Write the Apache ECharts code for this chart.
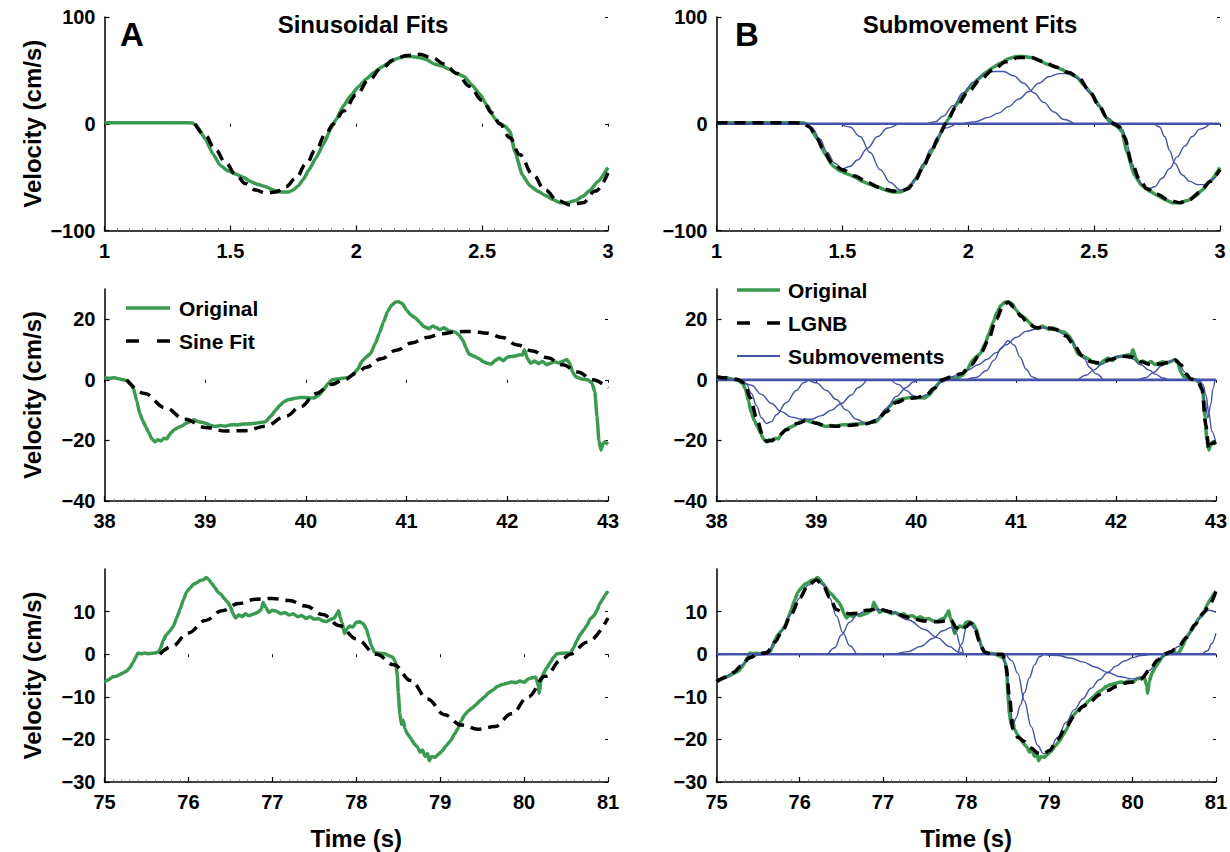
<!DOCTYPE html>
<html><head><meta charset="utf-8">
<script src="https://cdn.jsdelivr.net/npm/echarts@6/dist/echarts.min.js"></script>
<style>html,body{margin:0;padding:0;background:#fff}#c{width:1230px;height:852px}</style>
</head><body><div id="c"></div>
<script>
// ---------------- DATA ----------------
// Row 1 (time 1–3 s)
const orig1 = [[1.00,1],[1.10,1],[1.20,1],[1.30,1],[1.35,0.8],[1.37,-3],[1.40,-14],[1.43,-28],[1.46,-39],[1.49,-44],[1.52,-47],[1.55,-50],[1.58,-54],[1.61,-57],[1.64,-59],[1.67,-62],[1.70,-64],[1.73,-64],[1.75,-62],[1.77,-58],[1.79,-52],[1.81,-44],[1.84,-32],[1.87,-19],[1.90,-4],[1.92,4],[1.95,17],[1.98,27],[2.01,35],[2.04,42],[2.07,48],[2.10,53],[2.13,57],[2.16,61],[2.19,63],[2.22,63],[2.25,62],[2.28,60],[2.31,56],[2.34,54],[2.37,51],[2.40,47],[2.43,44],[2.46,36],[2.49,28],[2.52,17],[2.55,5],[2.57,0],[2.59,-2],[2.61,-7],[2.63,-26],[2.66,-48],[2.69,-58],[2.72,-63],[2.75,-67],[2.78,-71],[2.81,-74],[2.84,-74],[2.87,-72],[2.90,-68],[2.93,-62],[2.96,-54],[3.00,-41]];
const sine1 = [[1.36,0],[1.40,-11],[1.44,-24],[1.48,-36],[1.52,-47],[1.56,-56],[1.60,-62],[1.64,-65],[1.68,-64],[1.72,-59],[1.76,-51],[1.80,-38],[1.84,-24],[1.88,-9],[1.91,0],[1.95,12],[2.00,27],[2.05,41],[2.10,52],[2.15,60],[2.20,64],[2.25,65],[2.30,62],[2.35,56],[2.40,47],[2.45,35],[2.50,22],[2.54,10],[2.57,0],[2.61,-13],[2.65,-29],[2.70,-47],[2.75,-62],[2.80,-72],[2.85,-76],[2.90,-74],[2.95,-63],[3.00,-46]];
const lgnb1 = [[1.00,1],[1.20,1],[1.34,0.8],[1.37,-3],[1.40,-14],[1.43,-27],[1.46,-37],[1.50,-43],[1.55,-49],[1.60,-55],[1.65,-60],[1.70,-63],[1.73,-63.5],[1.76,-61],[1.79,-53],[1.82,-41],[1.85,-28],[1.88,-14],[1.91,0],[1.95,15],[2.00,30],[2.05,42],[2.10,51],[2.15,58],[2.20,62],[2.25,62],[2.30,58],[2.35,53],[2.40,48],[2.44,43],[2.48,31],[2.52,17],[2.55,6],[2.58,0],[2.60,-3],[2.62,-12],[2.65,-37],[2.68,-52],[2.71,-61],[2.75,-66],[2.80,-72],[2.84,-74],[2.88,-71],[2.92,-64],[2.96,-54],[3.00,-43]];
const smT1 = [[1.36,0],[1.38,-4],[1.41,-14],[1.44,-27],[1.47,-37],[1.50,-42],[1.53,-40],[1.56,-34],[1.60,-23],[1.64,-12],[1.68,-4],[1.72,0]];
const smT2 = [[1.49,0],[1.53,-3],[1.57,-12],[1.61,-27],[1.65,-43],[1.69,-55],[1.73,-62],[1.76,-61],[1.79,-52],[1.82,-38],[1.85,-24],[1.88,-12],[1.91,-4],[1.95,0]];
const smT3 = [[1.84,0],[1.87,2],[1.90,7],[1.94,17],[1.98,29],[2.02,39],[2.06,46],[2.10,49],[2.14,49],[2.18,45],[2.22,38],[2.26,29],[2.30,20],[2.34,11],[2.38,4],[2.42,0]];
const smT4 = [[1.98,0],[2.03,2],[2.08,6],[2.12,10],[2.16,16],[2.20,23],[2.24,30],[2.28,38],[2.32,44],[2.36,47],[2.40,47],[2.44,42],[2.48,30],[2.52,16],[2.55,6],[2.58,0]];
const smT5 = [[2.60,0],[2.615,-6],[2.63,-19],[2.65,-37],[2.67,-50],[2.69,-57],[2.715,-61],[2.74,-59],[2.77,-51],[2.80,-42],[2.83,-31],[2.86,-21],[2.89,-12],[2.92,-5],[2.96,0]];
const smT6 = [[2.74,0],[2.76,-3],[2.78,-12],[2.80,-25],[2.82,-37],[2.85,-48],[2.88,-54],[2.91,-57],[2.94,-57],[2.97,-52],[3.00,-43]];
const subs1 = [smT1, smT2, smT3, smT4, smT5, smT6];

// Row 2 (time 38–43 s)
const orig2 = [[38.00,0.8],[38.05,0.5],[38.10,0.7],[38.15,0.3],[38.22,-0.2],[38.26,-1.2],[38.29,-3],[38.32,-7],[38.35,-11],[38.38,-13.5],[38.41,-15.5],[38.44,-17.5],[38.47,-19.5],[38.50,-20.5],[38.53,-19.8],[38.56,-20.2],[38.59,-19.3],[38.62,-19.5],[38.65,-17.8],[38.69,-16.5],[38.73,-15.8],[38.77,-15.2],[38.81,-14.3],[38.85,-13.8],[38.89,-13.2],[38.93,-13.8],[38.97,-14],[39.01,-14.4],[39.05,-15],[39.10,-15.4],[39.15,-15.1],[39.20,-15.3],[39.26,-14.8],[39.32,-14.9],[39.38,-14.6],[39.44,-14.5],[39.50,-14.3],[39.55,-14.1],[39.60,-13.8],[39.65,-12],[39.70,-10],[39.74,-8.5],[39.78,-7.2],[39.83,-6.5],[39.89,-6.1],[39.95,-5.8],[40.02,-5.9],[40.08,-6],[40.13,-5],[40.18,-3],[40.22,-1.2],[40.26,0],[40.30,0.3],[40.36,0.5],[40.42,0.8],[40.46,1.5],[40.51,3.3],[40.56,6.3],[40.60,7.6],[40.64,8.6],[40.69,12],[40.73,15.5],[40.77,19],[40.81,22.5],[40.85,24.6],[40.89,25.7],[40.92,25.8],[40.96,25.1],[41.00,23],[41.04,21.5],[41.09,20.4],[41.13,19],[41.17,17.6],[41.22,16.9],[41.26,17.8],[41.29,17.3],[41.33,16.6],[41.37,17.2],[41.42,16.2],[41.48,15.8],[41.52,14.8],[41.56,13],[41.59,10.5],[41.62,8.5],[41.67,7.8],[41.72,7],[41.76,6],[41.80,5.5],[41.84,5.2],[41.88,6.4],[41.92,7.2],[41.96,6.3],[42.00,7.5],[42.04,7.7],[42.08,7.9],[42.12,8.3],[42.15,8.2],[42.17,9.9],[42.20,7],[42.23,5.5],[42.27,6.2],[42.31,5.4],[42.35,6.1],[42.39,5],[42.43,5.5],[42.47,6],[42.51,5.6],[42.55,6.1],[42.59,6.7],[42.62,5.5],[42.65,2.5],[42.68,1],[42.74,0.3],[42.80,0],[42.84,-1],[42.87,-4],[42.89,-12],[42.91,-20],[42.93,-23.2],[42.95,-21],[42.97,-20.5],[43.00,-21.3]];
const sine2 = [[38.22,0],[38.40,-4.5],[38.60,-9.2],[38.80,-13.0],[39.00,-15.7],[39.20,-16.9],[39.40,-16.8],[39.60,-15.3],[39.80,-12.0],[39.95,-8.8],[40.10,-4.5],[40.25,-1.5],[40.38,0],[40.50,2.2],[40.60,4.2],[40.75,7.0],[40.90,9.8],[41.05,12.2],[41.20,14.0],[41.35,15.2],[41.50,15.9],[41.65,16.0],[41.80,15.4],[41.95,14.0],[42.10,11.5],[42.25,9.5],[42.40,7.3],[42.55,5.0],[42.70,2.6],[42.85,0],[43.00,-2.8]];
const lgnb2 = [[38.00,1],[38.10,0.6],[38.20,0.2],[38.28,-1],[38.34,-6],[38.40,-12.5],[38.46,-18],[38.50,-20.3],[38.55,-20],[38.62,-18.5],[38.70,-16.5],[38.80,-14.5],[38.90,-13.5],[39.00,-14.3],[39.10,-15.2],[39.20,-15.3],[39.35,-15],[39.50,-14.5],[39.60,-13.5],[39.70,-10.5],[39.80,-7.5],[39.90,-6.2],[40.00,-5.9],[40.10,-5],[40.18,-2.8],[40.26,0],[40.35,1],[40.45,2],[40.55,5],[40.65,9],[40.72,13],[40.80,20],[40.87,24.6],[40.92,25.6],[40.98,24],[41.05,21],[41.12,18.6],[41.20,17.2],[41.30,17.3],[41.40,16.6],[41.50,14.5],[41.58,11.5],[41.66,8],[41.75,6],[41.85,5.5],[41.95,6.8],[42.05,7.8],[42.15,7.6],[42.25,6],[42.35,5],[42.45,5.2],[42.55,6],[42.60,6.5],[42.65,5],[42.70,2],[42.75,0.3],[42.82,-0.5],[42.86,-3],[42.90,-15],[42.93,-23],[42.96,-21],[43.00,-20.5]];
const smM1 = [[38.25,0],[38.30,-1.5],[38.35,-4.5],[38.40,-8.5],[38.45,-12.5],[38.50,-14.4],[38.55,-13.8],[38.60,-11.5],[38.70,-7.5],[38.80,-3.5],[38.87,-1],[38.92,0]];
const smM2 = [[38.25,0],[38.35,-1.8],[38.45,-4.8],[38.55,-7.8],[38.65,-10.5],[38.75,-12.3],[38.85,-13],[38.95,-13],[39.05,-11.8],[39.15,-10],[39.25,-7.8],[39.35,-5],[39.42,-2.5],[39.50,0]];
const smM3 = [[38.92,0],[39.00,-1],[39.10,-3.5],[39.20,-6.5],[39.30,-10],[39.40,-13],[39.50,-14.4],[39.60,-13],[39.70,-9.5],[39.80,-5.5],[39.90,-2.5],[39.97,-0.7],[40.02,0]];
const smM4 = [[39.75,0],[39.82,-1.5],[39.90,-3.5],[39.97,-5.2],[40.03,-5.8],[40.10,-5.0],[40.18,-2.8],[40.25,-0.8],[40.30,0]];
const smM5 = [[40.24,0],[40.35,1],[40.45,2.2],[40.52,3.3],[40.62,5],[40.71,6.8],[40.80,9],[40.90,11.6],[41.00,14],[41.10,16],[41.23,17.1],[41.32,17.1],[41.40,16.5],[41.48,15],[41.56,12.8],[41.62,10],[41.68,7],[41.74,4],[41.80,2],[41.87,0]];
const smM6 = [[40.50,0],[40.60,0.8],[40.70,3],[40.78,6.5],[40.85,10.5],[40.92,12.9],[40.98,11.5],[41.04,7.5],[41.10,3.5],[41.16,1],[41.22,0]];
const smM7 = [[41.62,0],[41.70,1.5],[41.78,3.3],[41.86,5.2],[41.94,6.8],[42.02,7.7],[42.08,7.8],[42.16,7],[42.25,5],[42.33,3.2],[42.40,1.8],[42.46,0.7],[42.52,0]];
const smM8 = [[42.22,0],[42.30,0.8],[42.38,2.5],[42.45,4.5],[42.52,6],[42.59,6.6],[42.64,5.2],[42.68,2.8],[42.72,0.9],[42.76,0]];
const smM9 = [[42.82,0],[42.86,-2],[42.89,-7],[42.92,-12.5],[42.95,-8],[42.97,-3],[42.99,0]];
const smM10 = [[42.84,0],[42.87,-1.5],[42.90,-5],[42.93,-11],[42.96,-17],[43.00,-21]];
const subs2 = [smM1, smM2, smM3, smM4, smM5, smM6, smM7, smM8, smM9, smM10];

// Row 3 (time 75–81 s)
const orig3 = [[75.00,-6.5],[75.05,-6],[75.10,-5.3],[75.14,-5.2],[75.18,-4.8],[75.22,-4.4],[75.26,-4],[75.30,-3.2],[75.34,-2],[75.37,-0.8],[75.40,0.3],[75.44,0.1],[75.48,0.3],[75.52,0.1],[75.56,0.2],[75.60,0.3],[75.64,0.5],[75.67,1.5],[75.70,3.3],[75.74,4.6],[75.78,5.5],[75.82,6.5],[75.86,8.5],[75.90,10.5],[75.94,12.8],[75.98,14.6],[76.02,15.6],[76.06,16.4],[76.10,16.8],[76.14,17.3],[76.18,17.5],[76.21,18],[76.24,17.6],[76.27,16.8],[76.31,15.8],[76.35,14.6],[76.39,14],[76.43,13],[76.47,12.2],[76.50,11.2],[76.53,9.6],[76.56,8.5],[76.60,9.2],[76.64,8.8],[76.68,9.5],[76.72,9],[76.76,9.3],[76.80,9.6],[76.84,10],[76.87,10.6],[76.89,12.2],[76.92,11],[76.96,9.8],[77.00,10.3],[77.05,10.1],[77.10,9.5],[77.15,9.8],[77.20,9.2],[77.25,9.5],[77.30,8.8],[77.35,9.1],[77.40,8.4],[77.45,8.8],[77.50,8.2],[77.55,8.4],[77.60,7.8],[77.65,7.7],[77.70,8.2],[77.74,8.5],[77.77,9.5],[77.79,10.2],[77.81,8.5],[77.83,7.5],[77.86,4.8],[77.89,6],[77.92,6.6],[77.96,6.4],[78.00,7.5],[78.04,7.6],[78.08,7.2],[78.12,6],[78.15,4],[78.18,2],[78.22,0.4],[78.28,0.2],[78.34,0.1],[78.40,-0.4],[78.44,-0.8],[78.47,-2],[78.49,-5],[78.50,-9],[78.52,-14],[78.54,-16.5],[78.56,-15.5],[78.58,-17.5],[78.61,-18.7],[78.65,-19.8],[78.69,-21],[78.73,-21.8],[78.76,-23],[78.79,-22.5],[78.82,-24],[78.85,-23.3],[78.87,-25],[78.90,-24],[78.94,-24.2],[78.98,-23.5],[79.02,-22.8],[79.07,-21.5],[79.12,-20.4],[79.17,-18.8],[79.21,-17.5],[79.25,-15.6],[79.29,-14.3],[79.33,-13.4],[79.38,-12.6],[79.43,-11.8],[79.48,-10.8],[79.53,-10],[79.58,-9],[79.63,-8.4],[79.68,-7.6],[79.74,-7.1],[79.80,-6.8],[79.85,-6.5],[79.90,-6.7],[79.95,-6.3],[80.00,-6.6],[80.05,-5.8],[80.10,-5.5],[80.14,-5.4],[80.17,-7.5],[80.18,-9.2],[80.20,-6.5],[80.23,-4.5],[80.27,-3.2],[80.31,-2],[80.35,-0.8],[80.39,0.1],[80.45,0.2],[80.50,0.3],[80.55,0.2],[80.59,1.5],[80.63,3.2],[80.67,4.6],[80.71,5.7],[80.75,6.8],[80.79,8.3],[80.83,9],[80.87,10.3],[80.90,11.8],[80.94,13],[80.97,14],[81.00,14.8]];
const sine3 = [[75.66,0],[75.80,1.8],[76.00,5.0],[76.20,7.9],[76.40,10.2],[76.60,11.9],[76.80,12.9],[77.00,13.1],[77.20,12.6],[77.40,11.3],[77.60,9.3],[77.80,6.7],[78.00,3.6],[78.24,0],[78.45,-2.5],[78.65,-6.2],[78.85,-10.5],[79.05,-14.2],[79.25,-16.6],[79.45,-17.6],[79.65,-17.0],[79.85,-14.0],[80.05,-10.0],[80.25,-5.2],[80.45,-1.2],[80.55,0],[80.75,2.8],[81.00,8.5]];
const lgnb3 = [[75.00,-6.4],[75.10,-5.5],[75.20,-4.3],[75.30,-2.7],[75.40,-0.8],[75.50,0.1],[75.60,0.3],[75.70,2.8],[75.80,5.8],[75.90,9.5],[76.00,13.2],[76.10,16.2],[76.20,17.4],[76.28,16.3],[76.36,13.3],[76.44,10.5],[76.52,9.8],[76.60,9.5],[76.70,9.6],[76.80,10.3],[76.94,10.6],[77.10,9.9],[77.30,8.7],[77.50,7.8],[77.65,7.6],[77.75,7.8],[77.82,8],[77.88,6.2],[77.94,5.5],[78.00,6.5],[78.05,7.3],[78.10,6.2],[78.16,3],[78.22,0.5],[78.30,0],[78.44,0],[78.48,-3],[78.52,-10],[78.56,-17.5],[78.62,-19.5],[78.70,-20.5],[78.78,-22],[78.86,-23.2],[78.93,-23.4],[79.00,-22.6],[79.10,-20],[79.20,-17],[79.30,-14.5],[79.40,-12.3],[79.50,-11],[79.60,-9.5],[79.70,-8.5],[79.80,-7.6],[79.90,-6.8],[80.00,-6.5],[80.10,-5.8],[80.20,-3.8],[80.30,-1.4],[80.38,0],[80.45,0.5],[80.55,1.8],[80.65,4],[80.75,7],[80.85,9.7],[80.92,11.5],[81.00,14.7]];
const smB0 = [[75.00,-6.4],[75.10,-5.4],[75.20,-4.2],[75.30,-2.6],[75.40,-1.1],[75.50,-0.2],[75.60,0]];
const smB1 = [[75.55,0],[75.62,0.8],[75.70,2.8],[75.80,5.8],[75.90,9.5],[76.00,13.2],[76.10,16.2],[76.20,17.4],[76.28,16.3],[76.36,13.2],[76.44,9],[76.52,5],[76.60,2],[76.68,0]];
const smB2 = [[76.34,0],[76.42,1.5],[76.50,4.5],[76.60,7.5],[76.70,9.4],[76.80,10.3],[76.94,10.5],[77.10,9.9],[77.30,8.1],[77.50,5.8],[77.65,3.9],[77.80,1.8],[77.90,0.6],[77.98,0]];
const smB3 = [[77.15,0],[77.30,0.6],[77.45,1.8],[77.60,3.7],[77.72,5.5],[77.82,6.3],[77.88,5],[77.93,2],[77.97,0]];
const smB4 = [[77.90,0],[77.95,2.5],[78.00,6.2],[78.04,7.3],[78.10,6],[78.15,3.2],[78.19,1],[78.23,0]];
const smB5 = [[78.44,0],[78.48,-3],[78.52,-10],[78.56,-16.6],[78.60,-15],[78.65,-12],[78.70,-9],[78.76,-5.5],[78.82,-2.5],[78.88,-0.6],[78.93,0]];
const smB6 = [[78.48,0],[78.55,-1.5],[78.62,-4.5],[78.70,-11],[78.78,-17],[78.86,-21.5],[78.93,-23.4],[79.00,-22.5],[79.10,-19.5],[79.20,-16],[79.30,-13],[79.40,-10.5],[79.50,-8],[79.60,-6],[79.70,-4.3],[79.80,-2.8],[79.90,-1.6],[80.00,-0.8],[80.10,-0.3],[80.20,0]];
const smB7 = [[78.93,0],[79.10,-0.3],[79.25,-0.9],[79.40,-1.8],[79.55,-3],[79.70,-4.3],[79.85,-5.3],[80.00,-5.8],[80.10,-5.5],[80.20,-3.8],[80.30,-1.6],[80.38,-0.4],[80.43,0]];
const smB8 = [[80.35,0],[80.45,0.5],[80.55,1.8],[80.65,4],[80.75,7],[80.85,9.6],[80.92,10.3],[81.00,9.8]];
const smB9 = [[80.84,0],[80.90,0.8],[80.95,2.5],[81.00,4.9]];
const subs3 = [smB0, smB1, smB2, smB3, smB4, smB5, smB6, smB7, smB8, smB9];

// Axis ranges and tick labels
const xRanges = [[1, 3, 0.5], [38, 43, 1], [75, 81, 1]];
const yRanges = [[-100, 100], [-40, 30], [-30, 20]];
const yTicks = [[-100, 0, 100], [-40, -20, 0, 20], [-30, -20, -10, 0, 10]];
const rowTitles = ['Sinusoidal Fits', 'Submovement Fits'];
const panelLetters = ['A', 'B'];
const legendA = ['Original', 'Sine Fit'];
const legendB = ['Original', 'LGNB', 'Submovements'];

// ---------------- STYLE / LAYOUT ----------------
const GREEN = '#3a9a50', BLUE = '#4253a8', BLACK = '#000';
const FONT = '"Liberation Sans", Arial, Helvetica, sans-serif';
const colLeft = [104.5, 716.5], plotW = 503.5;
const rowBox = [[17, 213.5], [289, 212], [569, 213]];
const origs = [orig1, orig2, orig3], sines = [sine1, sine2, sine3], lgnbs = [lgnb1, lgnb2, lgnb3], subsAll = [subs1, subs2, subs3];

const fmtNum = v => { const r = Math.round(v * 100) / 100; return r < 0 ? '\u2212' + Math.abs(r) : String(r); };
const grids = [], xAxes = [], yAxes = [], series = [];
const txt = { color: BLACK, fontFamily: FONT, fontWeight: 'bold' };

for (let r = 0; r < 3; r++) {
  for (let c = 0; c < 2; c++) {
    const gi = grids.length;
    grids.push({ left: colLeft[c], top: rowBox[r][0], width: plotW, height: rowBox[r][1] });
    const [xmin, xmax, xint] = xRanges[r];
    const [ymin, ymax] = yRanges[r];
    xAxes.push({
      type: 'value', gridIndex: gi, min: xmin, max: xmax, interval: xint, position: 'bottom',
      axisLine: { show: true, onZero: false, lineStyle: { color: BLACK, width: 1.5 } },
      axisTick: { show: true, inside: true, length: 5, lineStyle: { color: BLACK, width: 1.2 } },
      minorTick: { show: true, splitNumber: 10, length: 2.5, lineStyle: { color: '#777', width: 0.8 } },
      axisLabel: Object.assign({ fontSize: 20, margin: 10, formatter: fmtNum }, txt),
      splitLine: { show: false },
      name: r === 2 ? 'Time (s)' : '', nameLocation: 'middle', nameGap: 44,
      nameTextStyle: Object.assign({ fontSize: 24 }, txt)
    });
    xAxes.push({
      type: 'value', gridIndex: gi, min: xmin, max: xmax, interval: xint, position: 'top',
      axisLine: { show: false }, axisLabel: { show: false }, splitLine: { show: false },
      axisTick: { show: true, inside: true, length: 3, lineStyle: { color: BLACK, width: 1 } }
    });
    yAxes.push({
      type: 'value', gridIndex: gi, min: ymin, max: ymax, position: 'left',
      axisLine: { show: true, onZero: false, lineStyle: { color: BLACK, width: 1.5 } },
      axisTick: { show: true, inside: true, length: 5, customValues: yTicks[r], lineStyle: { color: BLACK, width: 1.2 } },
      axisLabel: Object.assign({ fontSize: 20, margin: 9, customValues: yTicks[r], formatter: fmtNum }, txt),
      splitLine: { show: false },
      name: c === 0 ? 'Velocity (cm/s)' : '', nameLocation: 'middle', nameGap: 60,
      nameTextStyle: Object.assign({ fontSize: 24 }, txt)
    });
    yAxes.push({
      type: 'value', gridIndex: gi, min: ymin, max: ymax, position: 'right',
      axisLine: { show: false }, axisLabel: { show: false }, splitLine: { show: false },
      axisTick: { show: true, inside: true, length: 3, customValues: yTicks[r], lineStyle: { color: BLACK, width: 1 } }
    });
    const xi = gi * 2, yi = gi * 2;
    const base = { type: 'line', xAxisIndex: xi, yAxisIndex: yi, showSymbol: false, symbol: 'none', animation: false, silent: true };
    series.push(Object.assign({}, base, { name: 'Original', data: origs[r], smooth: 0.15, smoothMonotone: 'x', z: 2, lineStyle: { color: GREEN, width: 3.5 } }));
    if (c === 0) {
      series.push(Object.assign({}, base, { name: 'Sine Fit', data: sines[r], smooth: 0.4, smoothMonotone: 'x', z: 4, lineStyle: { color: BLACK, width: 3.5, type: [11, 7] } }));
    } else {
      series.push(Object.assign({}, base, { name: 'Baseline', data: [[xmin, 0], [xmax, 0]], z: 3, lineStyle: { color: BLUE, width: 2.6 } }));
      subsAll[r].forEach(s => series.push(Object.assign({}, base, { name: 'Submovements', data: s, smooth: 0.4, smoothMonotone: 'x', z: 3, lineStyle: { color: BLUE, width: 1.4 } })));
      series.push(Object.assign({}, base, { name: 'LGNB', data: lgnbs[r], smooth: 0.3, smoothMonotone: 'x', z: 4, lineStyle: { color: BLACK, width: 3.5, type: [11, 7] } }));
    }
  }
}

// Titles, panel letters, legends (graphic)
const tfont = (s) => 'bold ' + s + 'px ' + FONT;
const graphic = [
  { type: 'text', x: 363, y: 24, style: { text: rowTitles[0], font: tfont(24), fill: BLACK, align: 'center', verticalAlign: 'middle' } },
  { type: 'text', x: 970, y: 24, style: { text: rowTitles[1], font: tfont(24), fill: BLACK, align: 'center', verticalAlign: 'middle' } },
  { type: 'text', x: 132, y: 34, style: { text: panelLetters[0], font: tfont(33), fill: BLACK, align: 'center', verticalAlign: 'middle' } },
  { type: 'text', x: 747, y: 34, style: { text: panelLetters[1], font: tfont(33), fill: BLACK, align: 'center', verticalAlign: 'middle' } },
  // legend A (middle-left)
  { type: 'line', shape: { x1: 126, y1: 308, x2: 170, y2: 308 }, style: { stroke: GREEN, lineWidth: 3.5 } },
  { type: 'text', x: 179, y: 308, style: { text: legendA[0], font: tfont(21), fill: BLACK, align: 'left', verticalAlign: 'middle' } },
  { type: 'line', shape: { x1: 126, y1: 341, x2: 170, y2: 341 }, style: { stroke: BLACK, lineWidth: 3.5, lineDash: [13, 18] } },
  { type: 'text', x: 179, y: 341, style: { text: legendA[1], font: tfont(21), fill: BLACK, align: 'left', verticalAlign: 'middle' } },
  // legend B (middle-right)
  { type: 'line', shape: { x1: 737, y1: 290, x2: 780, y2: 290 }, style: { stroke: GREEN, lineWidth: 3.5 } },
  { type: 'text', x: 788, y: 290, style: { text: legendB[0], font: tfont(21), fill: BLACK, align: 'left', verticalAlign: 'middle' } },
  { type: 'line', shape: { x1: 737, y1: 323, x2: 780, y2: 323 }, style: { stroke: BLACK, lineWidth: 3.5, lineDash: [13, 17] } },
  { type: 'text', x: 788, y: 323, style: { text: legendB[1], font: tfont(21), fill: BLACK, align: 'left', verticalAlign: 'middle' } },
  { type: 'line', shape: { x1: 737, y1: 356, x2: 780, y2: 356 }, style: { stroke: BLUE, lineWidth: 2 } },
  { type: 'text', x: 788, y: 356, style: { text: legendB[2], font: tfont(21), fill: BLACK, align: 'left', verticalAlign: 'middle' } }
];

const chart = echarts.init(document.getElementById('c'), null, { renderer: 'svg', width: 1230, height: 852 });
chart.setOption({
  animation: false,
  backgroundColor: '#fff',
  grid: grids, xAxis: xAxes, yAxis: yAxes, series: series, graphic: graphic
});
</script></body></html>
